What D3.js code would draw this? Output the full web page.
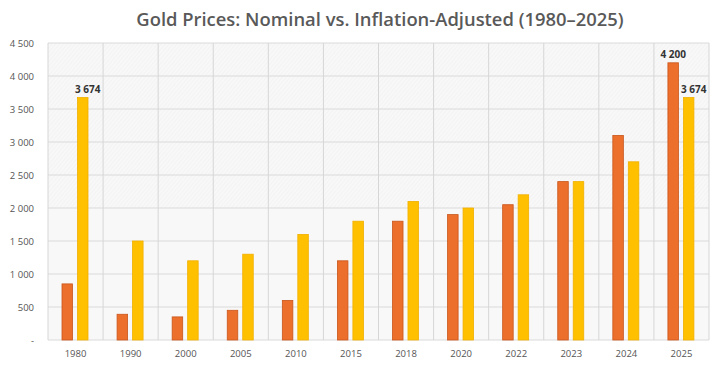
<!DOCTYPE html>
<html>
<head>
<meta charset="utf-8">
<script src="https://cdn.jsdelivr.net/npm/d3@7"></script>
<style>
  body { margin: 0; background: #fff; }
  svg { display: block; font-family: "Open Sans", "DejaVu Sans", sans-serif; }
</style>
</head>
<body>
<div class="container"></div>
<script>
// data
var years = ['1980', '1990', '2000', '2005', '2010', '2015', '2018', '2020', '2022', '2023', '2024', '2025'];
var nominal = [850, 390, 350, 450, 600, 1200, 1800, 1900, 2050, 2400, 3100, 4200];
var adjusted = [3674, 1500, 1200, 1300, 1600, 1800, 2100, 2000, 2200, 2400, 2700, 3674];
var yTicks = [0, 500, 1000, 1500, 2000, 2500, 3000, 3500, 4000, 4500];
var labelled = [
  { year: '1980', series: 'adjusted', value: 3674 },
  { year: '2025', series: 'nominal', value: 4200 },
  { year: '2025', series: 'adjusted', value: 3674 }
];

var W = 720, H = 365;
var margin = { top: 43, right: 11, bottom: 25, left: 48 },
  width = W - margin.left - margin.right,
  height = H - margin.top - margin.bottom;

var svg = d3.select('.container')
  .append('svg')
  .attr('width', W)
  .attr('height', H);

var defs = svg.append('defs');
var pat = defs.append('pattern')
  .attr('id', 'hatch')
  .attr('patternUnits', 'userSpaceOnUse')
  .attr('width', 3)
  .attr('height', 3)
  .attr('patternTransform', 'rotate(40)');
pat.append('rect').attr('width', 3).attr('height', 3).attr('fill', '#f8f8f8');
pat.append('line').attr('x1', 0).attr('y1', 0).attr('x2', 0).attr('y2', 3)
  .attr('stroke', '#eeeeee').attr('stroke-width', 1);

svg.append('text')
  .attr('x', 380)
  .attr('y', 26)
  .attr('text-anchor', 'middle')
  .attr('font-size', 18.4)
  .attr('font-weight', 600)
  .attr('fill', '#595959')
  .text('Gold Prices: Nominal vs. Inflation-Adjusted (1980\u20132025)');

var g = svg.append('g')
  .attr('transform', 'translate(' + margin.left + ',' + margin.top + ')');

var x = d3.scaleBand().domain(years).range([0, width]).padding(0);
var y = d3.scaleLinear().domain([0, 4500]).range([height, 0]);

// plot background
g.append('rect')
  .attr('width', width)
  .attr('height', height)
  .attr('fill', '#f8f8f8');
g.append('rect')
  .attr('width', width)
  .attr('height', y(2000))
  .attr('fill', 'url(#hatch)');

// horizontal grid
g.append('g')
  .selectAll('line')
  .data(yTicks)
  .enter()
  .append('line')
  .attr('x1', 0)
  .attr('x2', width)
  .attr('y1', function (d) { return y(d); })
  .attr('y2', function (d) { return y(d); })
  .attr('stroke', '#dadada')
  .attr('stroke-width', 1);

// vertical grid at category edges
var edges = years.map(function (d) { return x(d); }).concat([width]);
g.append('g')
  .selectAll('line')
  .data(edges)
  .enter()
  .append('line')
  .attr('x1', function (d) { return d; })
  .attr('x2', function (d) { return d; })
  .attr('y1', 0)
  .attr('y2', height)
  .attr('stroke', '#d6d6d6')
  .attr('stroke-width', 1);

var fmt = function (v) {
  if (v === 0) return '-';
  return d3.format(',')(v).replace(/,/g, ' ');
};

var yAxis = d3.axisLeft(y).tickValues(yTicks).tickSize(0).tickPadding(14).tickFormat(fmt);
g.append('g')
  .call(yAxis)
  .call(function (s) { s.select('.domain').remove(); })
  .selectAll('text')
  .attr('font-size', 9.5)
  .attr('fill', '#555')
  .attr('font-family', '"Open Sans", sans-serif');

var xAxis = d3.axisBottom(x).tickSize(0).tickPadding(10);
g.append('g')
  .attr('transform', 'translate(0,' + height + ')')
  .call(xAxis)
  .call(function (s) { s.select('.domain').remove(); })
  .selectAll('text')
  .attr('font-size', 9.5)
  .attr('fill', '#555')
  .attr('font-family', '"Open Sans", sans-serif');

var sub = d3.scaleBand().domain(['nominal', 'adjusted']).range([14, 40]).paddingInner(0.32);
var colors = { nominal: '#ec6f2c', adjusted: '#ffc000' };
var strokes = { nominal: '#c9561b', adjusted: '#f0b000' };

var rows = years.map(function (yr, i) {
  return { year: yr, nominal: nominal[i], adjusted: adjusted[i] };
});

var groups = g.append('g')
  .selectAll('g')
  .data(rows)
  .enter()
  .append('g')
  .attr('transform', function (d) { return 'translate(' + x(d.year) + ',0)'; });

groups.selectAll('rect')
  .data(function (d) {
    return ['nominal', 'adjusted'].map(function (k) { return { key: k, value: d[k] }; });
  })
  .enter()
  .append('rect')
  .attr('x', function (d) { return sub(d.key); })
  .attr('width', sub.bandwidth())
  .attr('y', function (d) { return y(d.value); })
  .attr('height', function (d) { return height - y(d.value); })
  .attr('fill', function (d) { return colors[d.key]; })
  .attr('stroke', function (d) { return strokes[d.key]; })
  .attr('stroke-width', 0.8);

// value labels, the adjusted ones sit a little to the right of their bar
g.append('g')
  .selectAll('text')
  .data(labelled)
  .enter()
  .append('text')
  .attr('x', function (d) { return x(d.year) + sub(d.series) + sub.bandwidth() / 2 + (d.series === 'adjusted' ? 5 : 0); })
  .attr('y', function (d) { return y(d.value) - 5; })
  .attr('text-anchor', 'middle')
  .attr('font-size', 10)
  .attr('font-weight', 700)
  .attr('fill', '#333')
  .text(function (d) { return fmt(d.value); });
</script>
</body>
</html>
